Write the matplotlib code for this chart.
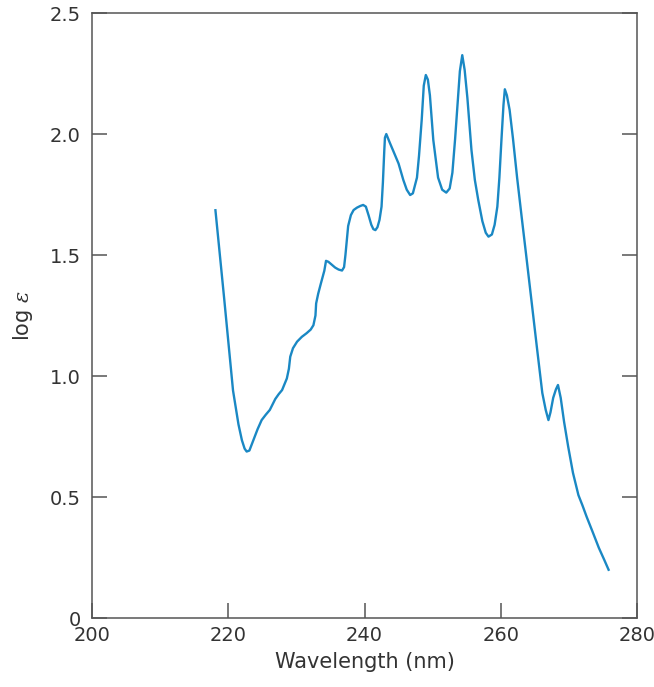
import matplotlib
matplotlib.use("Agg")
import matplotlib.pyplot as plt

# absorption spectrum
wavelength = [218.1, 219.4, 220.7, 221.5, 222.0, 222.4, 222.7, 223.1, 223.7,
              224.3, 224.9, 225.5, 226.1, 226.9, 227.4, 227.9, 228.6, 228.9,
              229.1, 229.5, 230.1, 230.8, 231.5, 232.1, 232.5, 232.8, 232.9,
              233.2, 233.6, 234.1, 234.35, 234.7, 235.2, 235.7, 236.2, 236.7,
              237.0, 237.2, 237.6, 238.0, 238.4, 238.9, 239.4, 239.8, 240.2,
              240.6, 241.0, 241.3, 241.6, 241.9, 242.2, 242.5, 242.7, 242.9,
              243.0, 243.2, 243.7, 244.3, 245.0, 245.7, 246.2, 246.7, 247.1,
              247.7, 248.0, 248.4, 248.7, 249.0, 249.3, 249.6, 250.1, 250.8,
              251.4, 252.0, 252.5, 252.9, 253.3, 253.7, 254.0, 254.35, 254.7,
              255.1, 255.7, 256.2, 256.7, 257.3, 257.8, 258.2, 258.7, 259.1,
              259.5, 259.8, 260.1, 260.4, 260.6, 260.9, 261.3, 261.8, 262.4,
              263.1, 263.7, 264.5, 265.3, 266.1, 266.6, 267.0, 267.3, 267.7,
              268.1, 268.4, 268.8, 269.3, 269.9, 270.6, 271.4, 272.0, 272.6,
              273.5, 274.4, 275.2, 275.9]
log_eps = [1.69, 1.32, 0.94, 0.80, 0.735, 0.70, 0.688, 0.692, 0.736,
           0.78, 0.818, 0.84, 0.86, 0.905, 0.925, 0.942, 0.99, 1.03,
           1.08, 1.115, 1.142, 1.162, 1.177, 1.192, 1.21, 1.25, 1.30,
           1.34, 1.383, 1.435, 1.476, 1.472, 1.460, 1.448, 1.440, 1.436,
           1.45, 1.50, 1.62, 1.665, 1.686, 1.696, 1.703, 1.707, 1.70,
           1.664, 1.625, 1.607, 1.603, 1.615, 1.645, 1.70, 1.80, 1.93,
           1.985, 2.0, 1.965, 1.925, 1.878, 1.81, 1.77, 1.748, 1.755,
           1.82, 1.91, 2.06, 2.20, 2.244, 2.225, 2.16, 1.975, 1.82,
           1.77, 1.758, 1.775, 1.84, 1.98, 2.14, 2.26, 2.326, 2.265,
           2.15, 1.934, 1.81, 1.727, 1.64, 1.592, 1.576, 1.585, 1.625,
           1.70, 1.82, 1.975, 2.12, 2.185, 2.16, 2.10, 1.98, 1.82,
           1.65, 1.507, 1.314, 1.12, 0.93, 0.86, 0.818, 0.85, 0.91,
           0.945, 0.963, 0.91, 0.81, 0.708, 0.60, 0.508, 0.465, 0.419,
           0.355, 0.29, 0.24, 0.195]

x_ticks = [200, 220, 240, 260, 280]
y_ticks = [0, 0.5, 1.0, 1.5, 2.0, 2.5]
y_tick_labels = ["0", "0.5", "1.0", "1.5", "2.0", "2.5"]

plt.rcParams['font.family'] = ['DejaVu Sans']
plt.rcParams['mathtext.fontset'] = 'dejavuserif'

fig = plt.figure(figsize=(6.54, 6.87), dpi=100)
ax = fig.add_axes([0.1407, 0.1004, 0.8333, 0.8806])

ax.plot(wavelength, log_eps, color='#1a88c4', linewidth=1.7,
        solid_joinstyle='round', solid_capstyle='butt')

ax.set_xlim(200, 280)
ax.set_ylim(0, 2.5)
ax.set_xticks(x_ticks)
ax.set_yticks(y_ticks)
ax.set_yticklabels(y_tick_labels)

for side in ['left', 'bottom', 'right', 'top']:
    ax.spines[side].set_color('#555555')
    ax.spines[side].set_linewidth(1.1)

ax.tick_params(axis='both', direction='in', length=11, width=1.1,
               color='#555555', labelsize=14, labelcolor='#333333')
ax.tick_params(axis='x', pad=6)
ax.tick_params(axis='y', pad=8, right=True)

ax.set_xlabel('Wavelength (nm)', fontsize=15, color='#333333', labelpad=5)
ax.set_ylabel(r'log $\varepsilon$', fontsize=15, color='#333333', labelpad=11)

fig.savefig('out.png', dpi=100)
